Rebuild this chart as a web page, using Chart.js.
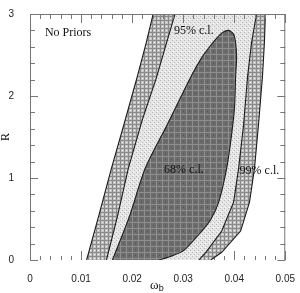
<!DOCTYPE html>
<html>
<head>
<meta charset="utf-8">
<script src="https://cdn.jsdelivr.net/npm/chart.js@4/dist/chart.umd.min.js"></script>
<style>
  html, body { margin: 0; padding: 0; background: #fff; }
  #box { width: 300px; height: 293px; }
</style>
</head>
<body>
<div id="box"><canvas id="chart"></canvas></div>
<script>
// Konturen (omega_b, R) – 99%, 95%, 68% c.l.
// Reihenfolge: unten links -> hoch -> oben rechts -> runter
const c99_x = [0.01109, 0.01342, 0.01595, 0.01848, 0.02101, 0.02276, 0.02412,
               0.04611, 0.04591, 0.04553, 0.04475, 0.04397, 0.04300, 0.04125, 0.03755, 0.03541];
const c99_R = [0, 0.529, 1.118, 1.671, 2.235, 2.647, 3,
               3, 2.647, 2.235, 1.647, 1.118, 0.706, 0.353, 0.094, 0];

const c95_x = [0.01498, 0.01712, 0.01926, 0.02198, 0.02471, 0.02646, 0.02840,
               0.04436, 0.04339, 0.04261, 0.04183, 0.04086, 0.03988, 0.03755, 0.03444, 0.03307];
const c95_R = [0, 0.529, 1.118, 1.706, 2.212, 2.588, 3,
               3, 2.647, 2.235, 1.647, 1.118, 0.706, 0.353, 0.094, 0];

const c68_x = [0.01615, 0.01946, 0.02257, 0.02685, 0.03152, 0.03366, 0.03502, 0.03658, 0.03774,
               0.03891, 0.03988, 0.04027, 0.04047, 0.04027, 0.04008, 0.03949, 0.03852, 0.03696,
               0.03541, 0.03366, 0.03016, 0.02763, 0.02529];
const c68_R = [0, 0.529, 1.118, 1.647, 2.235, 2.471, 2.588, 2.706, 2.776,
               2.8, 2.753, 2.647, 2.471, 2.235, 1.882, 1.529, 1.118, 0.706,
               0.494, 0.353, 0.118, 0.047, 0];

const xTicks = [0, 0.01, 0.02, 0.03, 0.04, 0.05];
const yTicks = [0, 1, 2, 3];

const noteTexts = ['No Priors', '95% c.l.', '68% c.l.', '99% c.l.'];
const noteX = [0.00292, 0.02821, 0.02626, 0.04105];
const noteR = [2.776, 2.8, 1.094, 1.082];

function toPoints(xs, ys) {
    return xs.map((v, i) => ({ x: v, y: ys[i] }));
}

// kleine Muster fuer die Schraffur
function makePattern(size, base, draw) {
    const c = document.createElement('canvas');
    c.width = size;
    c.height = size;
    const g = c.getContext('2d');
    g.fillStyle = base;
    g.fillRect(0, 0, size, size);
    draw(g);
    return g.createPattern(c, 'repeat');
}

const hatch99 = makePattern(4, '#c2c2c2', g => {
    g.fillStyle = '#8a8a8a';
    g.fillRect(0, 0, 4, 1);
    g.fillRect(0, 0, 1, 4);
    g.fillStyle = '#efefef';
    g.fillRect(2, 2, 1, 1);
});
const dots95 = makePattern(4, '#e6e6e6', g => {
    g.fillStyle = '#b8b8b8';
    g.fillRect(0, 0, 1, 1);
    g.fillRect(2, 2, 1, 1);
    g.fillStyle = '#fafafa';
    g.fillRect(1, 3, 1, 1);
});
const grid68 = makePattern(6, '#6b6b6b', g => {
    g.fillStyle = '#8e8e8e';
    g.fillRect(0, 0, 6, 1);
    g.fillRect(0, 0, 1, 6);
    g.fillStyle = '#555';
    g.fillRect(3, 3, 1, 1);
});

function contour(label, xs, ys, fillStyle, tension) {
    return {
        label: label,
        data: toPoints(xs, ys),
        fill: 'shape',
        backgroundColor: fillStyle,
        borderColor: '#1c1c1c',
        borderWidth: 1.1,
        pointRadius: 0,
        tension: tension
    };
}

// Rahmen, Ticks, Achsentitel, Beschriftungen
const decor = {
    id: 'decor',
    beforeDatasetsDraw(chart) {
        const { ctx, scales: { x } } = chart;
        const a = chart.chartArea;
        ctx.save();
        ctx.strokeStyle = '#777';
        ctx.lineWidth = 1;
        ctx.beginPath();
        for (let i = 0; i <= 25; i++) {
            const px = Math.round(x.getPixelForValue(i * 0.002)) + 0.5;
            const len = i % 5 === 0 ? 9 : 4;
            ctx.moveTo(px, a.bottom);
            ctx.lineTo(px, a.bottom - len);
        }
        ctx.stroke();
        ctx.restore();
    },
    afterDatasetsDraw(chart) {
        const { ctx, scales: { x, y } } = chart;
        const a = chart.chartArea;
        ctx.save();
        ctx.strokeStyle = '#777';
        ctx.lineWidth = 1;
        ctx.beginPath();
        ctx.moveTo(a.left + 0.5, a.bottom);
        ctx.lineTo(a.left + 0.5, a.top + 0.5);
        ctx.lineTo(a.right - 0.5, a.top + 0.5);
        ctx.lineTo(a.right - 0.5, a.bottom);
        for (let i = 0; i <= 25; i++) {
            const px = Math.round(x.getPixelForValue(i * 0.002)) + 0.5;
            const len = i % 5 === 0 ? 9 : 5;
            ctx.moveTo(px, a.top);
            ctx.lineTo(px, a.top + len);
        }
        for (let i = 0; i <= 15; i++) {
            const py = Math.round(y.getPixelForValue(i * 0.2)) + 0.5;
            const len = i % 5 === 0 ? 8 : 5;
            ctx.moveTo(a.left, py);
            ctx.lineTo(a.left + len, py);
            ctx.moveTo(a.right, py);
            ctx.lineTo(a.right - len, py);
        }
        ctx.stroke();

        ctx.fillStyle = '#111';
        ctx.font = '12px "Liberation Serif"';
        ctx.textBaseline = 'middle';
        ctx.textAlign = 'left';
        noteTexts.forEach((t, i) => {
            ctx.fillText(t, x.getPixelForValue(noteX[i]), y.getPixelForValue(noteR[i]));
        });

        // omega_b
        const cx = (a.left + a.right) / 2;
        ctx.font = '13px "Liberation Serif"';
        ctx.textAlign = 'right';
        ctx.fillText('\u03c9', cx + 1, 286);
        ctx.font = '9px "Liberation Sans"';
        ctx.textAlign = 'left';
        ctx.fillText('b', cx + 1, 289);

        // R
        ctx.translate(6, (a.top + a.bottom) / 2);
        ctx.rotate(-Math.PI / 2);
        ctx.font = '12px "Liberation Serif"';
        ctx.textAlign = 'center';
        ctx.fillText('R', 0, 0);
        ctx.restore();
    }
};

// Datensatz 0 wird zuletzt (oben) gezeichnet
const ctx = document.getElementById('chart').getContext('2d');
const chartInstance = new Chart(ctx, {
    type: 'line',
    data: {
        datasets: [
            contour('68% c.l.', c68_x, c68_R, grid68, 0.25),
            contour('95% c.l.', c95_x, c95_R, dots95, 0),
            contour('99% c.l.', c99_x, c99_R, hatch99, 0)
        ]
    },
    options: {
        responsive: true,
        maintainAspectRatio: false,
        animation: false,
        layout: { padding: { top: 5, right: 13, left: 0, bottom: 0 } },
        plugins: {
            legend: { display: false },
            tooltip: { enabled: false }
        },
        scales: {
            x: {
                type: 'linear',
                min: 0,
                max: 0.05,
                grid: { display: false },
                border: { display: false },
                afterBuildTicks: s => { s.ticks = xTicks.map(v => ({ value: v })); },
                afterFit: s => { s.height = 33; },
                ticks: {
                    padding: 5,
                    color: '#222',
                    font: { family: 'Liberation Sans', size: 10 },
                    maxRotation: 0,
                    callback: v => String(Math.round(v * 100) / 100)
                }
            },
            y: {
                type: 'linear',
                min: 0,
                max: 3,
                grid: { display: false },
                border: { display: false },
                afterBuildTicks: s => { s.ticks = yTicks.map(v => ({ value: v })); },
                afterFit: s => { s.width = 30; },
                ticks: {
                    padding: 8,
                    color: '#222',
                    font: { family: 'Liberation Sans', size: 10 },
                    callback: v => String(v)
                }
            }
        }
    },
    plugins: [decor]
});
</script>
</body>
</html>
